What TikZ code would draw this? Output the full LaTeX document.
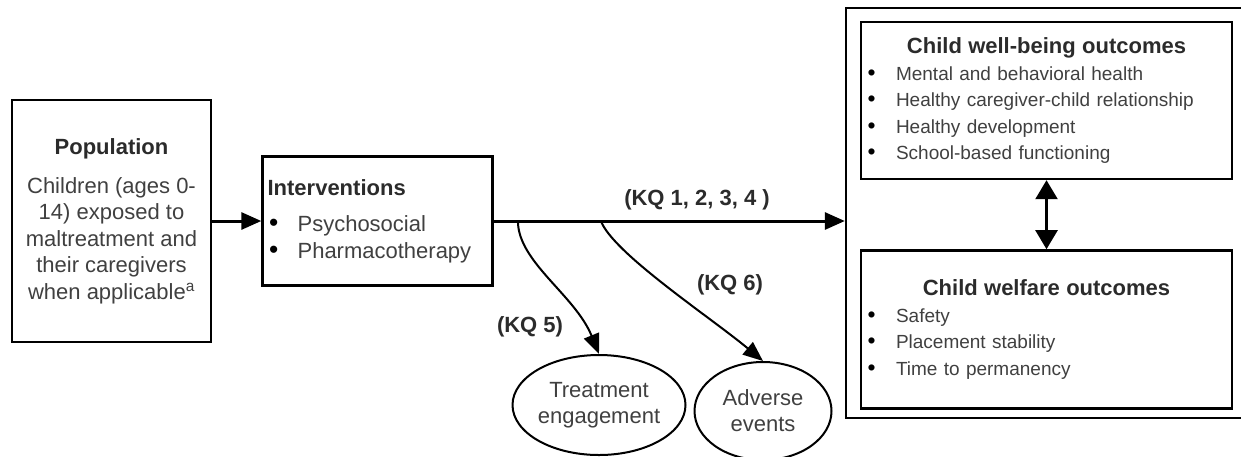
\documentclass[tikz,border=0pt]{standalone}
\usepackage{fontspec}
\setmainfont{Liberation Sans}
\usetikzlibrary{positioning,arrows.meta,shapes.geometric}
\definecolor{txtgray}{HTML}{404040}
\definecolor{txtdark}{HTML}{2B2B2B}
\newcommand{\bitem}{\makebox[30pt][l]{\hspace{1.5pt}\textcolor{black}{\scalebox{1.2}{\textbullet}}}}

\begin{document}
\begin{tikzpicture}[x=1pt, y=-1pt,
  blockbox/.style={draw=black, line width=2.6pt, rectangle, inner sep=5pt, text=txtgray, font=\fontsize{22}{26.5}\selectfont},
  outbox/.style={draw=black, line width=2.4pt, rectangle, inner sep=5pt, text=txtgray, minimum width=371pt, text width=361pt, align=left, font=\fontsize{19}{26.5}\selectfont},
  oval/.style={draw=black, line width=2pt, ellipse, inner sep=0pt, text=txtgray, align=center, font=\fontsize{22}{26}\selectfont},
  kq/.style={text=txtdark, font=\fontsize{22}{26.5}\selectfont\bfseries},
  >={Triangle[length=20pt,width=17pt]},
]
\useasboundingbox (0,0) rectangle (1241,456);
% ---- population and interventions ----
\node[blockbox, minimum width=199pt, minimum height=242pt, align=center] (pop) at (111.5,221)
  {{\color{txtdark}\bfseries Population}\\[12.5pt]Children (ages 0-\\14) exposed to\\maltreatment and\\their caregivers\\when applicable\textsuperscript{a}};
\node[blockbox, minimum width=230pt, minimum height=129pt, text width=220pt, align=left, right=49pt of pop] (intv)
  {{\color{txtdark}\bfseries Interventions}\\[10pt]\bitem Psychosocial\\\bitem Pharmacotherapy};
\draw[->, line width=3pt] (pop) -- (intv);

% ---- outcomes ----
\node[draw=black, line width=2.4pt, minimum width=400pt, minimum height=410pt, inner sep=0pt] (frame) at (1046,213) {};
\node[outbox, minimum height=157pt] (wb) at (1046.5,100.5)
  {\makebox[\linewidth][c]{\color{txtdark}\fontsize{22}{26.5}\selectfont\bfseries Child well-being outcomes}\\
   \bitem Mental and behavioral health\\
   \bitem Healthy caregiver-child relationship\\
   \bitem Healthy development\\
   \bitem School-based functioning};
\node[outbox, minimum height=158pt, below=69pt of wb] (wf)
  {\makebox[\linewidth][c]{\color{txtdark}\fontsize{22}{26.5}\selectfont\bfseries Child welfare outcomes}\\
   \bitem Safety\\
   \bitem Placement stability\\
   \bitem Time to permanency};
\draw[<->, line width=2.4pt, >={Triangle[length=19pt,width=22pt]}] (wb) -- (wf);

% ---- main arrow ----
\draw[->, line width=3pt] (intv.east) -- (intv.east -| frame.west);
\node[kq] (kq14) at (697,200) {(KQ 1, 2, 3, 4 )};

% ---- harms and engagement ----
\node[oval, minimum width=165pt, minimum height=100pt] (te) at (599,405) {Treatment\\engagement};
\node[oval, minimum width=137pt, minimum height=98pt] (ae) at (763,411) {Adverse\\events};
\coordinate[right=24pt of intv.east] (kq5start);
\coordinate[right=107pt of intv.east] (kq6start);
\draw[->, line width=2pt, >={Triangle[length=20pt,width=16pt]}] (kq5start) .. controls (518,262) and (575,295) .. (te.north);
\draw[->, line width=2pt, >={Triangle[length=20pt,width=16pt]}] (kq6start) .. controls (613,253) and (710,317) .. (ae.north);
\node[kq] (kq5) at (530,327) {(KQ 5)};
\node[kq] (kq6) at (730,285) {(KQ 6)};
\end{tikzpicture}
\end{document}
